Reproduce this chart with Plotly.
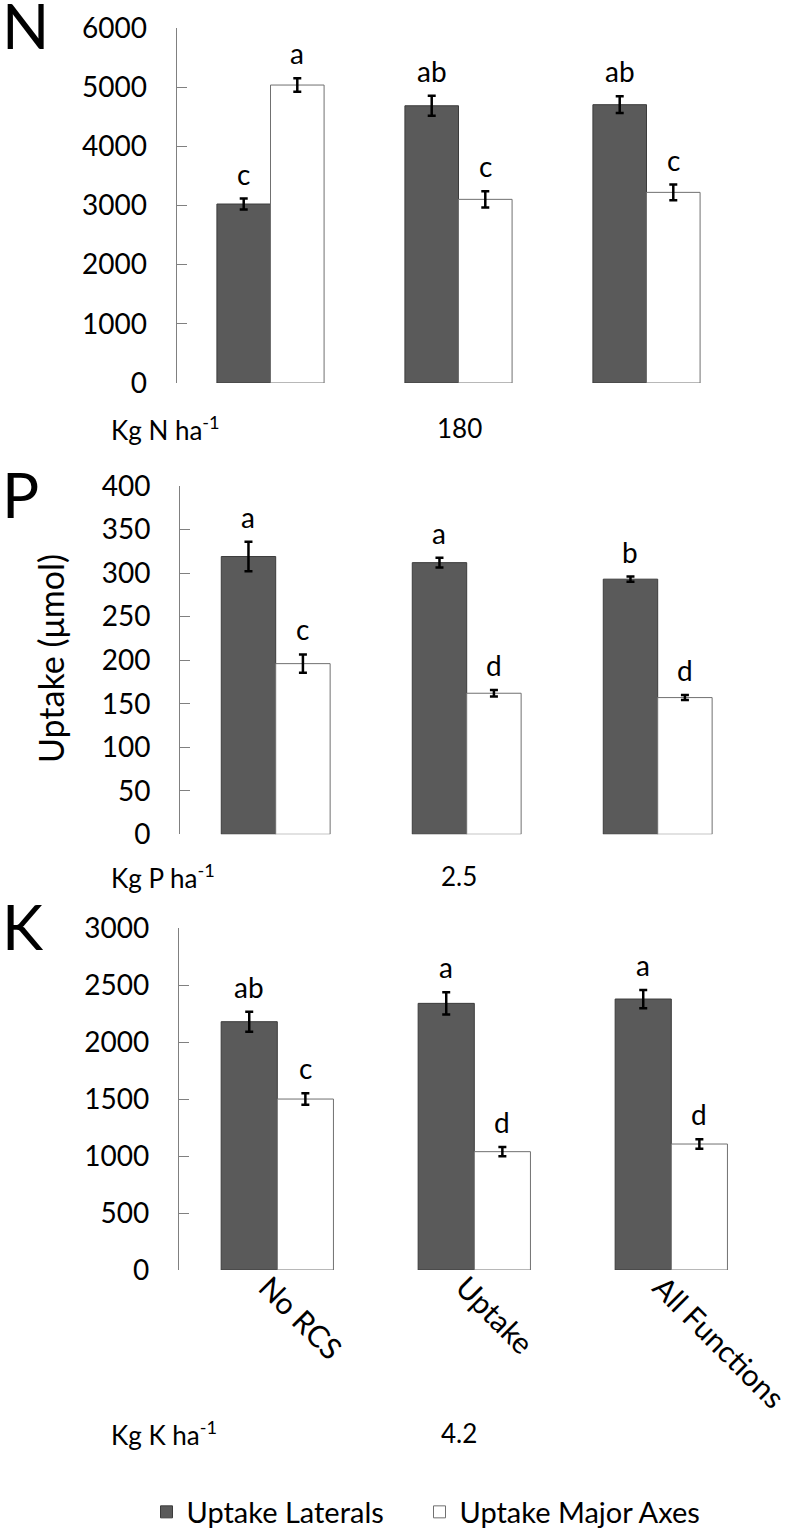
import plotly.graph_objects as go

# ---------------- data ----------------
categories = ["No RCS", "Uptake", "All Functions"]
series_names = ["Uptake Laterals", "Uptake Major Axes"]

n_laterals = [3025, 4686, 4704]
n_laterals_err = [93, 169, 141]
n_major = [5036, 3104, 3222]
n_major_err = [113, 138, 132]
n_lat_letters = ["c", "ab", "ab"]
n_maj_letters = ["a", "c", "c"]

p_laterals = [319, 312, 293]
p_laterals_err = [17, 5.5, 3]
p_major = [196, 162, 157]
p_major_err = [10.5, 3.8, 2.9]
p_lat_letters = ["a", "a", "b"]
p_maj_letters = ["c", "d", "d"]

k_laterals = [2180, 2341, 2379]
k_laterals_err = [88, 98, 80]
k_major = [1501, 1039, 1106]
k_major_err = [51, 40, 41]
k_lat_letters = ["ab", "a", "a"]
k_maj_letters = ["c", "d", "d"]

panel_names = ["N", "P", "K"]
rate_labels = ["Kg N ha<sup>-1</sup>", "Kg P ha<sup>-1</sup>", "Kg K ha<sup>-1</sup>"]
rate_values = ["180", "2.5", "4.2"]
y_ranges = [[0, 6000], [0, 400], [0, 3000]]
y_dticks = [1000, 50, 500]
y_title = "Uptake (μmol)"

# ---------------- styling ----------------
W, H = 789, 1531
FONT = "Lato"
DARK = "#5a5a5a"
AXIS = "#808080"
BAR_W = 0.285

def px(xp):
    return xp / W

def py(yp):
    return 1 - yp / H

# pixel domains of each panel (left, right, top, bottom)
dom = [
    (176.5, 740.5, 28, 383),
    (180.2, 753.2, 486, 834.3),
    (178.8, 769.8, 928.3, 1270),
]

panels = [
    (n_laterals, n_laterals_err, n_major, n_major_err, n_lat_letters, n_maj_letters),
    (p_laterals, p_laterals_err, p_major, p_major_err, p_lat_letters, p_maj_letters),
    (k_laterals, k_laterals_err, k_major, k_major_err, k_lat_letters, k_maj_letters),
]

x_pos = list(range(len(categories)))

fig = go.Figure()
annotations = []
layout_axes = {}

for i, (lat, lat_e, maj, maj_e, lat_l, maj_l) in enumerate(panels):
    xa = "x" if i == 0 else f"x{i+1}"
    ya = "y" if i == 0 else f"y{i+1}"
    fig.add_trace(go.Bar(
        x=x_pos, y=lat, name=series_names[0], xaxis=xa, yaxis=ya,
        width=BAR_W, offset=-BAR_W,
        marker=dict(color=DARK, line=dict(color="#3c3c3c", width=1)),
        error_y=dict(type="data", array=lat_e, color="black", thickness=2.5, width=4),
        showlegend=(i == 0), legendgroup="lat", legend="legend",
    ))
    fig.add_trace(go.Bar(
        x=x_pos, y=maj, name=series_names[1], xaxis=xa, yaxis=ya,
        width=BAR_W, offset=0,
        marker=dict(color="white", line=dict(color="#707070", width=1)),
        error_y=dict(type="data", array=maj_e, color="black", thickness=2.5, width=4),
        showlegend=(i == 0), legendgroup="maj", legend="legend2",
    ))
    for j in x_pos:
        annotations.append(dict(x=j - BAR_W / 2, y=lat[j] + lat_e[j], xref=xa, yref=ya,
                                text=lat_l[j], showarrow=False, yanchor="bottom", yshift=6,
                                font=dict(family=FONT, size=28, color="black")))
        annotations.append(dict(x=j + BAR_W / 2, y=maj[j] + maj_e[j], xref=xa, yref=ya,
                                text=maj_l[j], showarrow=False, yanchor="bottom", yshift=6,
                                font=dict(family=FONT, size=28, color="black")))

    l, r, t, b = dom[i]
    xkey = "xaxis" if i == 0 else f"xaxis{i+1}"
    ykey = "yaxis" if i == 0 else f"yaxis{i+1}"
    layout_axes[xkey] = dict(
        domain=[px(l), px(r)], range=[-0.5, 2.5], anchor=ya, automargin=False,
        showline=False, showgrid=False, zeroline=False, ticks="",
        tickvals=x_pos, ticktext=categories,
        showticklabels=(i == 2), tickangle=45, ticklabeloverflow="allow",
        ticklabelstandoff=-7, ticklabelshift=-10,
        tickfont=dict(family=FONT, size=30, color="black"),
    )
    layout_axes[ykey] = dict(
        domain=[py(b), py(t)], range=y_ranges[i], dtick=y_dticks[i], anchor=xa,
        automargin=False,
        showline=True, linecolor=AXIS, linewidth=1,
        ticks="inside", ticklen=10, tickcolor=AXIS, tickwidth=1,
        showgrid=False, zeroline=False,
        tickfont=dict(family=FONT, size=28, color="black"),
        ticklabelstandoff=23,
    )

# panel letters
panel_y = [25, 494, 926]
for i, name in enumerate(panel_names):
    annotations.append(dict(x=px(0), y=py(panel_y[i]), xref="paper", yref="paper",
                            text=name, showarrow=False, xanchor="left", yanchor="middle",
                            font=dict(family=FONT, size=62, color="black")))

# fertiliser rate rows
rate_y = [428, 876, 1433]
for i in range(3):
    annotations.append(dict(x=px(109), y=py(rate_y[i]), xref="paper", yref="paper",
                            text=rate_labels[i], showarrow=False, xanchor="left", yanchor="middle",
                            font=dict(family=FONT, size=26, color="black")))
    annotations.append(dict(x=px(459), y=py(rate_y[i]), xref="paper", yref="paper",
                            text=rate_values[i], showarrow=False, xanchor="center", yanchor="middle",
                            font=dict(family=FONT, size=26, color="black")))

# y title
annotations.append(dict(x=px(50), y=py(659), xref="paper", yref="paper",
                        text=y_title, showarrow=False, textangle=-90,
                        xanchor="center", yanchor="middle",
                        font=dict(family=FONT, size=34, color="black")))

legend_style = dict(orientation="h", yanchor="middle", xanchor="left",
                    font=dict(family=FONT, size=29, color="black"), itemwidth=30,
                    bgcolor="rgba(0,0,0,0)")

fig.update_layout(
    width=W, height=H,
    margin=dict(l=0, r=0, t=0, b=0, autoexpand=False),
    paper_bgcolor="white", plot_bgcolor="white",
    barmode="overlay",
    font=dict(family=FONT, size=26, color="black"),
    annotations=annotations,
    legend=dict(x=px(146.5), y=py(1512), **legend_style),
    legend2=dict(x=px(419.5), y=py(1512), **legend_style),
    **layout_axes,
)

fig.write_html(
    "out.html",
    config={"displayModeBar": False},
    post_script="document.body.style.margin='0';document.body.style.overflow='hidden';",
)
